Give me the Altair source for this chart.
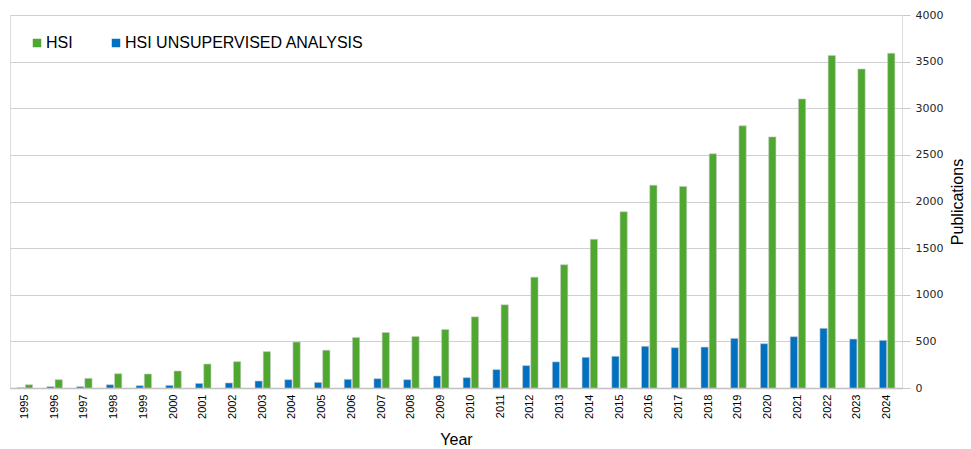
import altair as alt
import pandas as pd

years = [str(y) for y in range(1995, 2025)]
hsi = [35, 89, 103, 153, 150, 182, 257, 282, 390, 493, 405, 541, 595, 552, 627,
       763, 892, 1189, 1322, 1594, 1890, 2175, 2161, 2511, 2811, 2693, 3100, 3565, 3421, 3589]
hsi_unsup = [3, 14, 14, 35, 25, 28, 49, 54, 75, 89, 60, 93, 100, 89, 129,
             111, 197, 240, 280, 329, 340, 447, 432, 439, 532, 475, 550, 640, 525, 511]
series = ["HSI", "HSI UNSUPERVISED ANALYSIS"]
colors = ["#4EA72E", "#0070C0"]

rows = []
for i, y in enumerate(years):
    rows.append({"Year": y, "Series": series[0], "Publications": hsi[i]})
    rows.append({"Year": y, "Series": series[1], "Publications": hsi_unsup[i]})
df = pd.DataFrame(rows)

chart = alt.Chart(df).mark_bar(stroke="#c8c8c8", strokeWidth=0.6).encode(
    x=alt.X("Year:N", sort=years,
            scale=alt.Scale(paddingInner=0.48, paddingOuter=0.24),
            axis=alt.Axis(title="Year", labelAngle=270, ticks=False, labelPadding=6,
                          labelFont="Liberation Sans", labelFontSize=11, labelColor="#000000",
                          titleFont="Liberation Sans", titleFontSize=16, titleFontWeight="normal",
                          titleColor="#000000", titlePadding=13,
                          domainColor="#c0c0c0", domainWidth=1.5, grid=False)),
    xOffset=alt.XOffset("Series:N", sort=[series[1], series[0]],
                        scale=alt.Scale(paddingInner=0.12)),
    y=alt.Y("Publications:Q",
            scale=alt.Scale(domain=[0, 4000], nice=False),
            axis=alt.Axis(orient="right", values=list(range(0, 4001, 500)), format="d",
                          title="Publications",
                          tickColor="#c8c8c8", tickSize=8, labelPadding=5, domain=False,
                          labelFont="DejaVu Sans", labelFontSize=11, labelColor="#262626",
                          titleFont="Liberation Sans", titleFontSize=16, titleFontWeight="normal",
                          titleColor="#000000", titleAngle=270, titlePadding=23,
                          gridColor="#d0d0d0", gridWidth=1.2)),
    color=alt.Color("Series:N", scale=alt.Scale(domain=series, range=colors),
                    legend=alt.Legend(title=None, orient="none", legendX=19, legendY=20,
                                      direction="horizontal", symbolType="square",
                                      symbolSize=72, symbolStrokeWidth=0, labelLimit=0,
                                      labelFont="Liberation Sans", labelFontSize=16,
                                      labelColor="#000000", columnPadding=35, labelOffset=1)),
).properties(
    width=892, height=373,
    padding={"left": 10, "top": 9, "right": 0, "bottom": 0},
).configure_view(stroke=None).configure(background="white")

chart.save("out.html", embed_options={"renderer": "svg", "actions": False})
